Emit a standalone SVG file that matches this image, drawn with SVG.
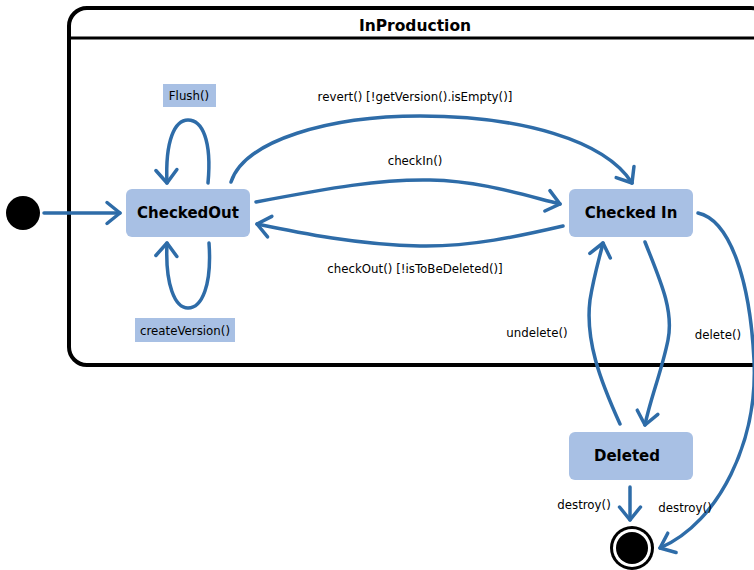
<svg xmlns="http://www.w3.org/2000/svg" width="754" height="570" viewBox="0 0 754 570">
<defs>
<style>
.st{fill:#a8c0e4;}
.nt{font-family:"DejaVu Sans",Verdana,sans-serif;font-weight:bold;font-size:15px;text-anchor:middle;fill:#000;}
.lb{font-family:"DejaVu Sans",Verdana,sans-serif;font-size:11.8px;text-anchor:middle;fill:#000;}
.e{fill:none;stroke:#2e6ca8;stroke-width:3.5;stroke-linecap:round;marker-end:url(#arr);}
</style>
<marker id="arr" markerWidth="8" markerHeight="8" refX="6.5" refY="4" orient="auto" markerUnits="userSpaceOnUse" viewBox="0 0 8 8" style="overflow:visible">
<path d="M-6.5,-6.5 L6.5,4 L-6.5,14.5" fill="none" stroke="#2e6ca8" stroke-width="3.5" stroke-linecap="round" stroke-linejoin="round"/>
</marker>
</defs>
<rect width="754" height="570" fill="#fff"/>
<g id="InProduction">
<rect x="69" y="8" width="700" height="357" rx="18" fill="none" stroke="#000" stroke-width="4"/>
<line x1="69" y1="38" x2="760" y2="38" stroke="#000" stroke-width="3"/>
<text x="415" y="31" class="nt" style="font-size:15.5px">InProduction</text>
</g>
<g id="connectors">
<path class="e" d="M44,213 L120,213"/>
<path class="e" d="M208,183 C212,140 202,120 188,120 C175,120 165,140 167,183"/>
<path class="e" d="M209,243 C212,285 202,308 188,308 C175,308 165,285 167,243"/>
<path class="e" d="M231,182 C245,140 330,116 420,116 C520,116 605,140 632,183"/>
<path class="e" d="M256,202 C330,188 380,179 430,180 C480,181 520,194 560,204"/>
<path class="e" d="M563,226 C520,236 470,247 420,246 C360,245 300,233 257,224"/>
<path class="e" d="M645,242 C660,280 674,310 668,340 C662,370 650,400 645,425"/>
<path class="e" d="M620,424 C600,380 585,340 590,300 C594,275 600,256 603,243"/>
<path class="e" d="M698,213 C730,220 750,280 754,360 C758,440 720,522 660,548"/>
<path class="e" d="M630,487 L630,520"/>
</g>
<g id="initial"><circle cx="23" cy="213" r="17" fill="#000"/></g>
<g id="final"><circle cx="632" cy="548" r="22" fill="#000"/><circle cx="632" cy="548" r="19" fill="#fff"/><circle cx="632" cy="548" r="16" fill="#000"/></g>
<g id="CheckedOut"><rect class="st" x="126" y="189" width="124" height="48" rx="6"/><text class="nt" x="188" y="218">CheckedOut</text></g>
<g id="CheckedIn"><rect class="st" x="569" y="189" width="124" height="48" rx="6"/><text class="nt" x="631" y="218">Checked In</text></g>
<g id="Deleted"><rect class="st" x="569" y="432" width="124" height="48" rx="6"/><text class="nt" x="627" y="461">Deleted</text></g>
<g id="labels">
<rect class="st" x="163" y="84" width="53" height="23"/>
<text class="lb" x="189" y="100">Flush()</text>
<rect class="st" x="135" y="318" width="100" height="24"/>
<text class="lb" x="185" y="335">createVersion()</text>
<text class="lb" x="415" y="101">revert() [!getVersion().isEmpty()]</text>
<text class="lb" x="415" y="165">checkIn()</text>
<text class="lb" x="415" y="273">checkOut() [!isToBeDeleted()]</text>
<text class="lb" x="537" y="337">undelete()</text>
<text class="lb" x="718" y="339">delete()</text>
<text class="lb" x="584" y="509">destroy()</text>
<text class="lb" x="685" y="512">destroy()</text>
</g>
</svg>
